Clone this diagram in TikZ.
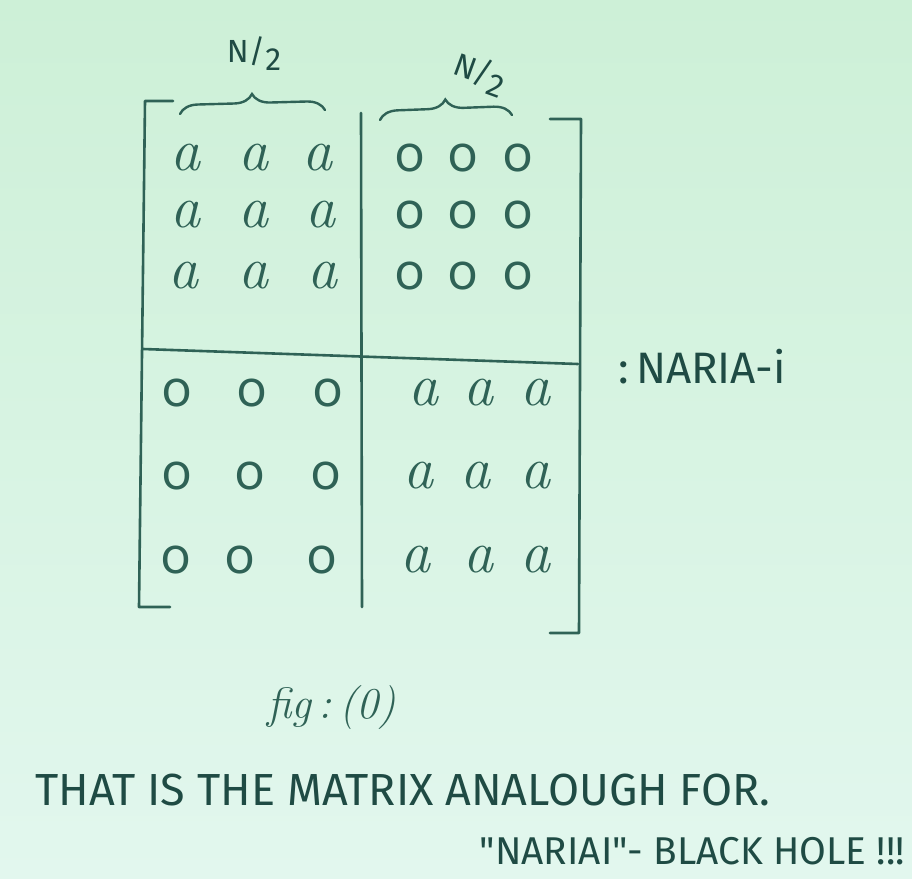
\documentclass[tikz,border=0pt]{standalone}
\usepackage{fontspec}
\newfontfamily\hand{Fira Sans}
\newfontfamily\osf[Numbers=OldStyle]{Fira Sans}
\usetikzlibrary{decorations.pathreplacing}
\definecolor{ink}{HTML}{2F6256}
\definecolor{inkdark}{HTML}{1F4B44}
\definecolor{bgtop}{HTML}{CDF0D7}
\definecolor{bgbot}{HTML}{E2F7EE}
\begin{document}
\begin{tikzpicture}[x=1pt,y=-1pt,
  rule/.style={draw=ink, line width=2.6pt, line cap=round, line join=round},
  bracestyle/.style={draw=ink, line width=2.4pt, line cap=round,
    decorate, decoration={brace, amplitude=18pt, aspect=0.5}},
  aent/.style={text=ink, font=\fontsize{60}{60}\selectfont\itshape, inner sep=0pt},
  zent/.style={text=ink, font=\osf\fontsize{48}{48}\selectfont, inner sep=0pt},
  half/.style={text=inkdark, font=\hand\fontsize{32}{32}\selectfont, inner sep=0pt},
  caps/.style={text=inkdark, font=\hand\fontsize{44}{44}\selectfont, inner sep=0pt},
]
\shade[top color=bgtop, bottom color=bgbot] (0,0) rectangle (912,878);
\useasboundingbox (0,0) rectangle (912,878);

% brackets
\draw[rule] (173,101) -- (145,101) -- (139,607) -- (170,607);
\draw[rule] (550,119) -- (581,119) -- (579,633) -- (550,633);
% dividers
\coordinate (vt) at (361,113);
\coordinate (vb) at (362,607);
\coordinate (hl) at (143,349);
\coordinate (hr) at (578,364);
\draw[rule] (vt) -- (vb);
\draw[rule] (hl) -- (hr);

% braces
\coordinate (b1l) at (180,114);
\coordinate (b1r) at (325,110);
\coordinate (b2l) at (380,120);
\coordinate (b2r) at (512,115);
\draw[bracestyle] (b1l) -- (b1r);
\draw[bracestyle] (b2l) -- (b2r);
\node[half] (n1) at (254,54) {N/\raisebox{-8pt}{2}};
\node[half, rotate=-20] (n2) at (480,74) {N/\raisebox{-8pt}{2}};

% top-left block
\node[aent] (a11) at (185,158) {a};
\node[aent] (a12) at (253,158) {a};
\node[aent] (a13) at (317,158) {a};
\node[aent] (a21) at (185,215) {a};
\node[aent] (a22) at (253,215) {a};
\node[aent] (a23) at (320,215) {a};
\node[aent] (a31) at (183,276) {a};
\node[aent] (a32) at (253,276) {a};
\node[aent] (a33) at (322,276) {a};
% top-right block
\node[zent] (z14) at (410,158) {0};
\node[zent] (z15) at (463,158) {0};
\node[zent] (z16) at (518,158) {0};
\node[zent] (z24) at (410,215) {0};
\node[zent] (z25) at (463,215) {0};
\node[zent] (z26) at (518,215) {0};
\node[zent] (z34) at (410,276) {0};
\node[zent] (z35) at (463,276) {0};
\node[zent] (z36) at (518,276) {0};
% bottom-left block
\node[zent] (z41) at (177,393) {0};
\node[zent] (z42) at (252,393) {0};
\node[zent] (z43) at (328,393) {0};
\node[zent] (z51) at (177,476) {0};
\node[zent] (z52) at (250,476) {0};
\node[zent] (z53) at (326,476) {0};
\node[zent] (z61) at (176,560) {0};
\node[zent] (z62) at (240,560) {0};
\node[zent] (z63) at (322,560) {0};
% bottom-right block
\node[aent] (a44) at (423,393) {a};
\node[aent] (a45) at (478,393) {a};
\node[aent] (a46) at (535,393) {a};
\node[aent] (a54) at (418,476) {a};
\node[aent] (a55) at (475,476) {a};
\node[aent] (a56) at (535,476) {a};
\node[aent] (a64) at (415,560) {a};
\node[aent] (a65) at (478,560) {a};
\node[aent] (a66) at (535,560) {a};

% labels
\node[text=inkdark, font=\hand\fontsize{44}{44}\selectfont, inner sep=0pt, anchor=west] (naria) at (618,367) {:\,NARIA-i};
\node[text=ink, font=\fontsize{44}{44}\selectfont\itshape, inner sep=0pt] (fig) at (332,708) {fig\,:\,(0)};
\node[caps, anchor=west] (line1) at (35,790) {\resizebox{735pt}{!}{THAT IS THE MATRIX ANALOUGH FOR.}};
\node[caps, anchor=east] (line2) at (905,851) {\resizebox{425pt}{!}{"NARIAI"- BLACK HOLE !!!}};
\end{tikzpicture}
\end{document}
